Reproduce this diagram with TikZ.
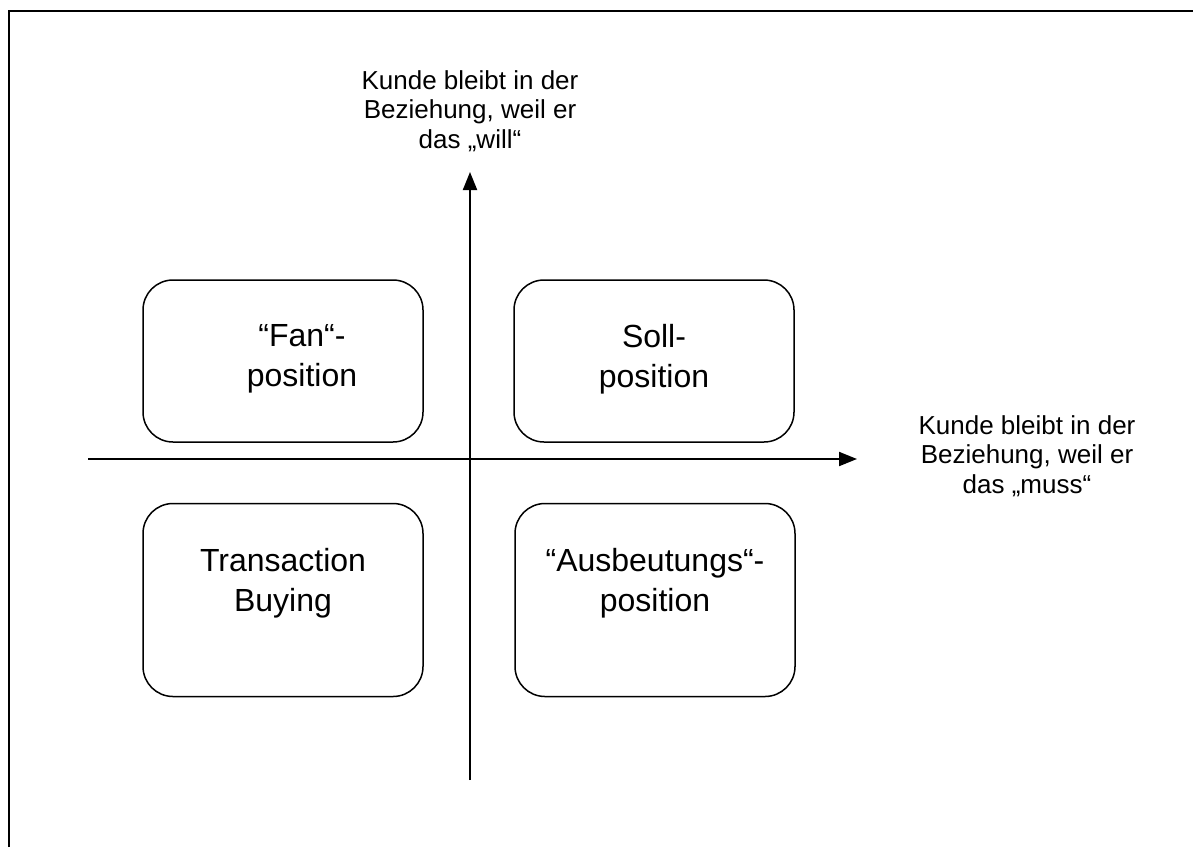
\documentclass[tikz,border=0pt]{standalone}
\usepackage{fontspec}
\setmainfont{Liberation Sans}
\usetikzlibrary{arrows.meta}
\begin{document}
\begin{tikzpicture}[x=1pt,y=-1pt,
  quadrant/.style={draw=black,line width=1.5pt,rounded corners=30pt,minimum width=280pt},
  boxtext/.style={align=center,font=\fontsize{32}{40}\selectfont},
  axislabel/.style={align=center,font=\fontsize{26}{29.5}\selectfont},
  axis/.style={line width=2pt,-{Triangle[length=18pt,width=14pt]}}]
  \useasboundingbox (0,0) rectangle (1193,847);
  % open frame: top and left edges
  \coordinate (frameBL) at (9,847);
  \coordinate (frameTL) at (9,11);
  \coordinate (frameTR) at (1193,11);
  \draw[line width=2.2pt] (frameBL) -- (frameTL) -- (frameTR);
  % axes
  \coordinate (ybot) at (470,780);
  \coordinate (ytop) at (470,172);
  \coordinate (xleft) at (88,459);
  \coordinate (xright) at (857,459);
  \draw[axis] (ybot) -- (ytop);
  \draw[axis] (xleft) -- (xright);
  % axis labels
  \node[axislabel] (ylab) at (470,111) {Kunde bleibt in der\\Beziehung, weil er\\das „will“};
  \node[axislabel] (xlab) at (1027,456) {Kunde bleibt in der\\Beziehung, weil er\\das „muss“};
  % quadrant boxes
  \node[quadrant,minimum height=162pt] (fan) at (283,361) {};
  \node[quadrant,minimum height=162pt] (soll) at (654,361) {};
  \node[quadrant,minimum height=193pt] (trans) at (283,600) {};
  \node[quadrant,minimum height=193pt] (ausb) at (655,600) {};
  \node[boxtext] (fant) at (302,359) {“Fan“-\\position};
  \node[boxtext] (sollt) at (654,359) {Soll-\\position};
  \node[boxtext] (transt) at (283,583) {Transaction\\Buying};
  \node[boxtext] (ausbt) at (655,583) {“Ausbeutungs“-\\position};
\end{tikzpicture}
\end{document}
